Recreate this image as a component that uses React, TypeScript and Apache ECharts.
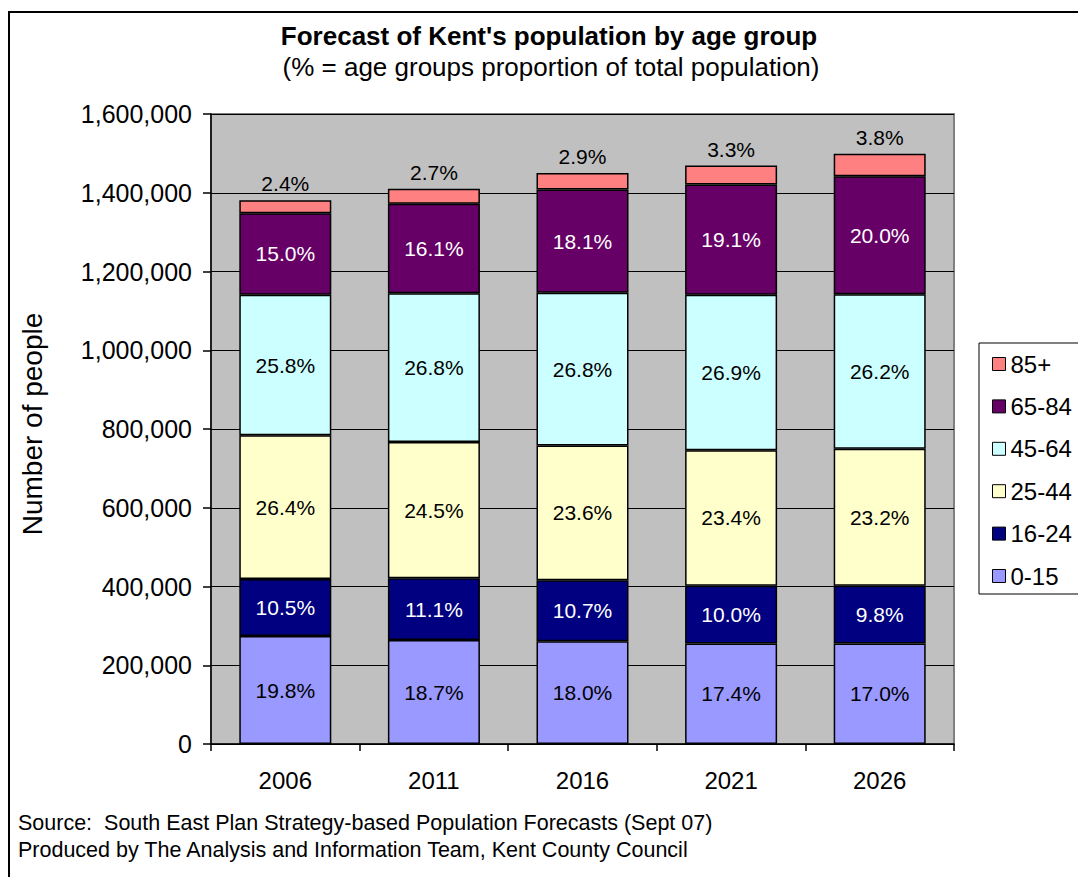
import React, { useEffect, useRef } from 'react';
import * as echarts from 'echarts';

const years = ['2006', '2011', '2016', '2021', '2026'];
const yTicks = [0, 200000, 400000, 600000, 800000, 1000000, 1200000, 1400000, 1600000];

const ages0to15 = [274000, 264000, 261000, 255000, 255000];
const ages16to24 = [145000, 157000, 155000, 147000, 147000];
const ages25to44 = [365000, 346000, 342000, 344000, 348000];
const ages45to64 = [357000, 378000, 388000, 395000, 392000];
const ages65to84 = [207000, 227000, 262000, 280000, 300000];
const ages85plus = [33000, 38000, 42000, 48000, 57000];

const pct0to15 = ['19.8%', '18.7%', '18.0%', '17.4%', '17.0%'];
const pct16to24 = ['10.5%', '11.1%', '10.7%', '10.0%', '9.8%'];
const pct25to44 = ['26.4%', '24.5%', '23.6%', '23.4%', '23.2%'];
const pct45to64 = ['25.8%', '26.8%', '26.8%', '26.9%', '26.2%'];
const pct65to84 = ['15.0%', '16.1%', '18.1%', '19.1%', '20.0%'];
const pct85plus = ['2.4%', '2.7%', '2.9%', '3.3%', '3.8%'];

const groupNames = ['0-15', '16-24', '25-44', '45-64', '65-84', '85+'];
const groupValues = [ages0to15, ages16to24, ages25to44, ages45to64, ages65to84, ages85plus];
const groupPcts = [pct0to15, pct16to24, pct25to44, pct45to64, pct65to84, pct85plus];
const groupColors = ['#9999FF', '#000080', '#FFFFCC', '#CCFFFF', '#660066', '#FF8080'];
const labelColors = ['#000', '#fff', '#000', '#000', '#fff', '#000'];

const FONT = '"Liberation Sans", Arial, sans-serif';

const fmt = (v: number) => String(v).replace(/\B(?=(\d{3})+(?!\d))/g, ',');

export default function App() {
  const ref = useRef<HTMLDivElement>(null);
  useEffect(() => {
    if (!ref.current) return;
    const chart = echarts.init(ref.current, undefined, { renderer: 'svg' });
    const series = groupNames.map((name, gi) => ({
      name,
      type: 'bar',
      stack: 'total',
      barWidth: 92,
      data: groupValues[gi],
      itemStyle: { color: groupColors[gi], borderColor: '#000', borderWidth: 1.5 },
      label: {
        show: true,
        position: gi === 5 ? 'top' : 'inside',
        distance: 6,
        fontFamily: FONT,
        fontSize: 21,
        color: labelColors[gi],
        formatter: (p: any) => groupPcts[gi][p.dataIndex],
      },
    }));
    chart.setOption({
      animation: false,
      textStyle: { fontFamily: FONT },
      grid: {
        left: 211,
        top: 114,
        right: 1078 - 954,
        bottom: 877 - 744,
        show: true,
        backgroundColor: '#C0C0C0',
        borderColor: '#808080',
        borderWidth: 2,
      },
      xAxis: {
        type: 'category',
        data: years,
        axisLine: { show: true, lineStyle: { color: '#000', width: 1.5 } },
        axisTick: { show: true, length: 7, lineStyle: { color: '#000', width: 1.5 } },
        axisLabel: { fontFamily: FONT, fontSize: 24, color: '#000', margin: 24 },
      },
      yAxis: {
        type: 'value',
        min: yTicks[0],
        max: yTicks[yTicks.length - 1],
        interval: yTicks[1] - yTicks[0],
        axisLine: { show: true, lineStyle: { color: '#000', width: 1.5 } },
        axisTick: { show: true, length: 8, lineStyle: { color: '#000', width: 1.5 } },
        splitLine: { show: true, lineStyle: { color: '#000', width: 1 } },
        axisLabel: { fontFamily: FONT, fontSize: 25, color: '#000', margin: 19, formatter: (v: number) => fmt(v) },
      },
      legend: {
        orient: 'vertical',
        left: 987,
        top: 347,
        data: ['85+', '65-84', '45-64', '25-44', '16-24', '0-15'],
        icon: 'rect',
        itemWidth: 13,
        itemHeight: 13,
        itemGap: 18.4,
        itemStyle: { borderColor: '#000', borderWidth: 1 },
        textStyle: { fontFamily: FONT, fontSize: 24, color: '#000' },
        selectedMode: false,
      },
      graphic: [
        {
          type: 'rect',
          shape: { x: 9, y: 12, width: 1200, height: 1000 },
          style: { fill: 'none', stroke: '#000', lineWidth: 2 },
          silent: true,
        },
        {
          type: 'rect',
          shape: { x: 979, y: 343, width: 200, height: 251 },
          style: { fill: 'none', stroke: '#000', lineWidth: 1 },
          silent: true,
        },
        {
          type: 'text',
          x: 549,
          y: 36,
          style: {
            text: "Forecast of Kent's population by age group",
            fontFamily: FONT,
            fontWeight: 'bold',
            fontSize: 26,
            fill: '#000',
            textAlign: 'center',
            textVerticalAlign: 'middle',
          },
        },
        {
          type: 'text',
          x: 551,
          y: 67,
          style: {
            text: '(% = age groups proportion of total population)',
            fontFamily: FONT,
            fontSize: 26,
            fill: '#000',
            textAlign: 'center',
            textVerticalAlign: 'middle',
          },
        },
        {
          type: 'text',
          x: 32,
          y: 424,
          rotation: Math.PI / 2,
          style: {
            text: 'Number of people',
            fontFamily: FONT,
            fontSize: 28,
            fill: '#000',
            textAlign: 'center',
            textVerticalAlign: 'middle',
          },
        },
        {
          type: 'text',
          x: 18,
          y: 823,
          style: {
            text: 'Source:  South East Plan Strategy-based Population Forecasts (Sept 07)',
            fontFamily: FONT,
            fontSize: 21.5,
            fill: '#000',
            textAlign: 'left',
            textVerticalAlign: 'middle',
          },
        },
        {
          type: 'text',
          x: 18,
          y: 850,
          style: {
            text: 'Produced by The Analysis and Information Team, Kent County Council',
            fontFamily: FONT,
            fontSize: 21.5,
            fill: '#000',
            textAlign: 'left',
            textVerticalAlign: 'middle',
          },
        },
      ],
      series,
    });
    return () => chart.dispose();
  }, []);
  return (
    <div
      ref={ref}
      style={{ position: 'fixed', left: 0, top: 0, width: 1078, height: 877, background: '#fff' }}
    />
  );
}
